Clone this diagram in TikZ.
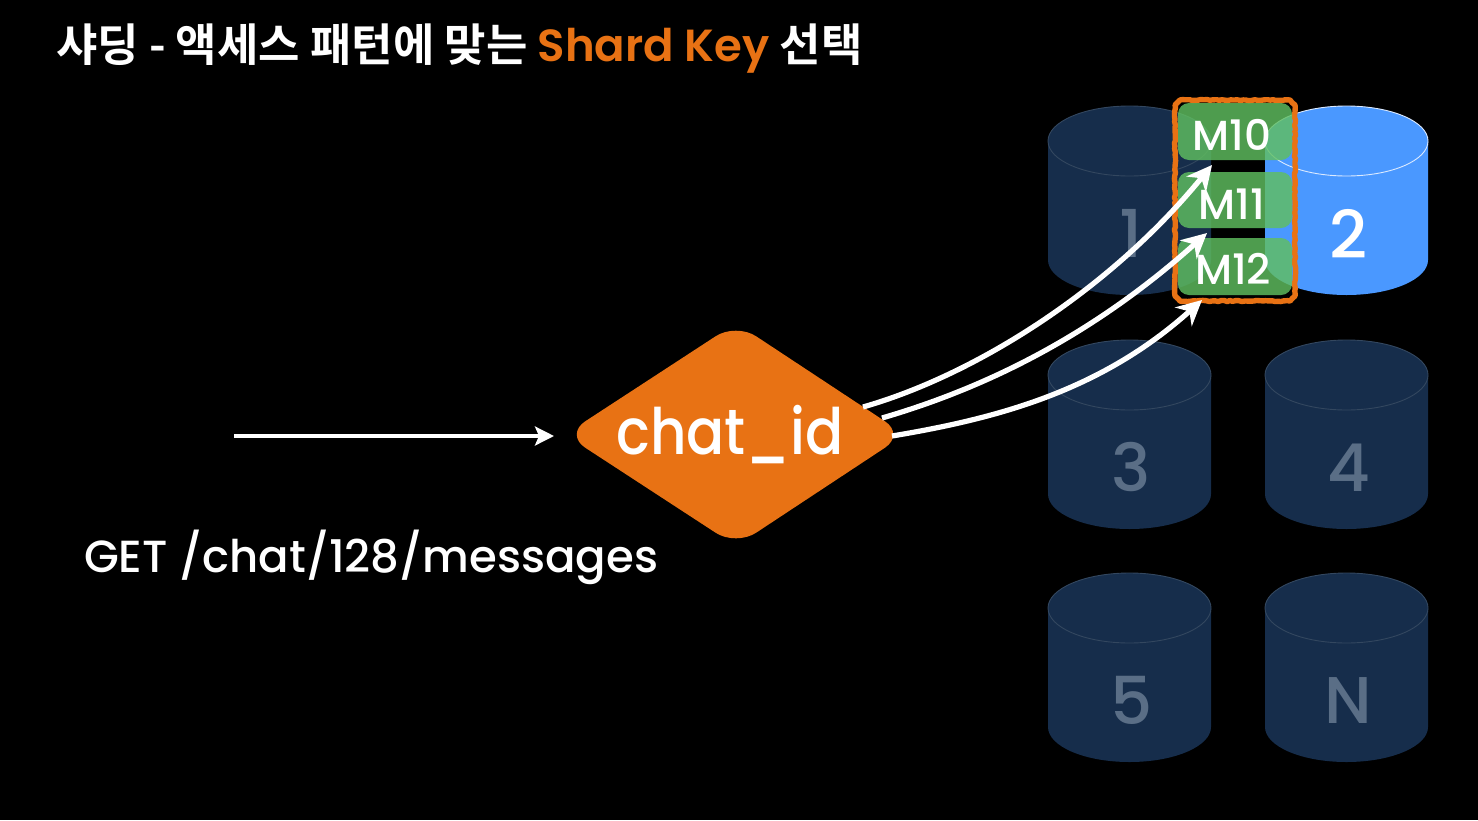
\documentclass[tikz,border=0pt]{standalone}
\usepackage{graphicx}
\usepackage{fontspec}
\setmainfont{Poppins}
\newfontfamily\krfont{Noto Sans CJK KR Bold}
\newfontfamily\popbold{Poppins SemiBold}
\newfontfamily\popmed{Poppins Medium}
\usetikzlibrary{decorations.pathmorphing,arrows.meta}
\definecolor{cylDark}{HTML}{162D4B}
\definecolor{cylEdge}{HTML}{33475F}
\definecolor{digitDim}{HTML}{5A6E86}
\definecolor{cylBlue}{HTML}{4A98FF}
\definecolor{accent}{HTML}{E87214}
\definecolor{boxGreen}{HTML}{60BF60}
\tikzset{
  x=1pt,y=-1pt,
  txt/.style={inner sep=0pt,outer sep=0pt,text=white},
  cyldim/.style={fill=cylDark},
  cyllit/.style={fill=cylBlue},
  lid/.style={line width=.9pt},
  membox/.style={fill=boxGreen,fill opacity=.82,draw=none,rounded corners=11pt},
  flow/.style={draw=white,line width=5.2pt,-{Stealth[length=25pt,width=25pt,inset=8pt]}},
  feed/.style={draw=white,line width=3.4pt,-{Stealth[length=19pt,width=19pt,inset=4pt]}}
}
\newcommand{\dbcyl}[7]{% name, cx, cy, label, body style, edge colour, digit colour
  \path[#5] (#2-81.5,#3) -- (#2-81.5,#3+119) arc[start angle=180,end angle=0,x radius=81.5,y radius=35]
     -- (#2+81.5,#3) arc[start angle=0,end angle=-180,x radius=81.5,y radius=35] -- cycle;
  \draw[lid,draw=#6] (#2,#3) ellipse[x radius=81.5,y radius=35];
  \node[txt,text=#7,font=\fontsize{66}{66}\selectfont\popmed] (#1) at (#2+2,#3+92.5) {#4};
}
\begin{document}
\begin{tikzpicture}
\path[use as bounding box,fill=black] (0,0) rectangle (1478,820);
% title
\node[txt,anchor=base west,font=\fontsize{45}{45}\selectfont\krfont] (title) at (56,61)
  {샤딩 - 액세스 패턴에 맞는 \textcolor{accent}{\popbold Shard Key} 선택};
% shards
\dbcyl{s1}{1129.5}{141}{1}{cyldim}{cylEdge}{digitDim}
\dbcyl{s2}{1346.5}{141}{2}{cyllit}{white!80!cylBlue}{white}
\dbcyl{s3}{1129.5}{375}{3}{cyldim}{cylEdge}{digitDim}
\dbcyl{s4}{1346.5}{375}{4}{cyldim}{cylEdge}{digitDim}
\dbcyl{s5}{1129.5}{608}{5}{cyldim}{cylEdge}{digitDim}
\dbcyl{sN}{1346.5}{608}{N}{cyldim}{cylEdge}{digitDim}
% selection
\draw[accent,line width=5.4pt,line join=round,decorate,decoration={random steps,segment length=3pt,amplitude=.6pt}]
  (1180,100) -- (1290,100) -- (1295,105) -- (1295,296) -- (1290,301) -- (1180,301) -- (1175,296) -- (1175,105) -- cycle;
\path[membox] (1178,103) rectangle (1292,160);
\path[membox] (1178,172) rectangle (1292,228);
\path[membox] (1178,238) rectangle (1292,295);
\node[txt,font=\fontsize{42}{42}\selectfont\popmed] (m10) at (1232,135) {M10};
\node[txt,font=\fontsize{42}{42}\selectfont\popmed] (m11) at (1232,204) {M11};
\node[txt,font=\fontsize{42}{42}\selectfont\popmed] (m12) at (1233,269) {M12};
% router
\path[fill=accent,rounded corners=24pt] (565,434.5) -- (736,323) -- (905,434.5) -- (736,546) -- cycle;
\node[txt,font=\fontsize{64}{64}\selectfont\popmed] (key) at (730,434.5) {\scalebox{.88}[1]{chat\_id}};
% request
\node[txt,anchor=base west,font=\fontsize{45}{46}\selectfont\popmed] (req) at (84,572) {GET /chat/128/messages};
\coordinate (start) at (234,436);
\coordinate (rin) at (554,436);
\draw[feed] (start) -- (rin);
% flows
\coordinate (o1) at (863,407); \coordinate (e1) at (1212,165);
\coordinate (o2) at (882,418); \coordinate (e2) at (1207,233);
\coordinate (o3) at (892,436); \coordinate (e3) at (1202,300);
\draw[flow] (o1) .. controls (975,375) and (1110,290) .. (e1);
\draw[flow] (o2) .. controls (985,388) and (1092,336) .. (e2);
\draw[flow] (o3) .. controls (1000,418) and (1102,390) .. (e3);
\end{tikzpicture}
\end{document}
